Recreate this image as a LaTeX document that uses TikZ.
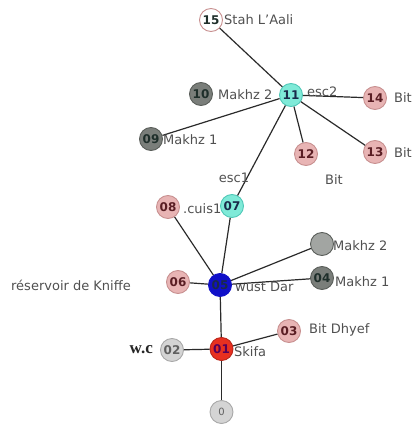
\documentclass[tikz,border=0pt]{standalone}
\usepackage{fontspec}
\setmainfont{DejaVu Sans}
\newfontfamily\wcfont{Liberation Serif}
\begin{document}
\begin{tikzpicture}[x=1pt,y=-1pt,
  nd/.style={circle,draw,line width=0.9pt,minimum size=23pt,inner sep=0pt,font=\fontsize{12}{12}\selectfont\bfseries},
  pinknd/.style={nd,fill=pinkf,draw=pinkd,text=brownt},
  cyannd/.style={nd,fill=cyanf,draw=cyand,text=navyt},
  dgreynd/.style={nd,fill=dgreyf,draw=dgreyd,text=dgreyt},
  lgreynd/.style={nd,fill=lgreyf,draw=lgreyd,text=lgreyt},
  lbl/.style={font=\fontsize{13}{13}\selectfont,text=labc,inner sep=0pt},
  edge/.style={line width=1.2pt,draw=edgec}]
\definecolor{pinkf}{HTML}{E8B4B4}
\definecolor{pinkd}{HTML}{C89090}
\definecolor{brownt}{HTML}{5A1E24}
\definecolor{cyanf}{HTML}{7FEAD8}
\definecolor{cyand}{HTML}{50C8B8}
\definecolor{navyt}{HTML}{1A2A4A}
\definecolor{dgreyf}{HTML}{7A7E7A}
\definecolor{dgreyd}{HTML}{5A5E5A}
\definecolor{dgreyt}{HTML}{1E2E2A}
\definecolor{lgreyf}{HTML}{D4D4D4}
\definecolor{lgreyd}{HTML}{A8A8A8}
\definecolor{lgreyt}{HTML}{606060}
\definecolor{labc}{HTML}{505050}
\definecolor{edgec}{HTML}{2A2A2A}
\definecolor{bluef}{HTML}{1010C8}
\definecolor{redf}{HTML}{E83020}
\useasboundingbox (0,0) rectangle (414,425);
% nodes
\node[nd,fill=white,draw=pinkd,text=dgreyt] (n15) at (211,20) {15};
\node[cyannd] (n11) at (291,95) {11};
\node[dgreynd] (n10) at (201,94) {10};
\node[dgreynd] (n09) at (151,139) {09};
\node[pinknd] (n14) at (375,98) {14};
\node[pinknd] (n13) at (375,152) {13};
\node[pinknd] (n12) at (306,154) {12};
\node[cyannd] (n07) at (232,206) {07};
\node[pinknd] (n08) at (168,207) {08};
\node[nd,fill=bluef,draw=bluef,text=navyt] (n05) at (220,285) {05};
\node[pinknd] (n06) at (178,282) {06};
\node[dgreynd,fill=dgreyf!70] (m2) at (322,244) {};
\node[dgreynd] (n04) at (322,278) {04};
\node[nd,fill=redf,draw=redf!80!black,text=violet!70!black] (n01) at (221.5,349) {01};
\node[lgreynd] (n02) at (172,350) {02};
\node[pinknd] (n03) at (289,331) {03};
\node[lgreynd,font=\fontsize{10}{10}\selectfont] (n0) at (221.5,412) {0};
% edges
\draw[edge] (n15) -- (n11);
\draw[edge] (n09) -- (n11);
\draw[edge] (n11) -- (n14);
\draw[edge] (n11) -- (n13);
\draw[edge] (n11) -- (n12);
\draw[edge] (n11) -- (n07);
\draw[edge] (n07) -- (n05);
\draw[edge] (n08) -- (n05);
\draw[edge] (n06) -- (n05);
\draw[edge] (n05) -- (m2);
\draw[edge] (n05) -- (n04);
\draw[edge] (n05) -- (n01);
\draw[edge] (n01) -- (n02);
\draw[edge] (n01) -- (n03);
\draw[edge] (n01) -- (n0);
% labels
\node[lbl,anchor=west] (l15) at (224,20) {Stah L'Aali};
\node[lbl,anchor=west] (l10) at (218,95) {Makhz 2};
\node[lbl,anchor=west] (l11) at (307,92) {esc2};
\node[lbl,anchor=west] (l14) at (394,98) {Bit};
\node[lbl,anchor=west] (l09) at (163,140) {Makhz 1};
\node[lbl,anchor=west] (l13) at (394,153) {Bit};
\node[lbl] (l12) at (334,180) {Bit};
\node[lbl] (l07) at (234,178) {esc1};
\node[lbl,anchor=west] (l08) at (183,209) {.cuis1};
\node[lbl,anchor=west] (lm2) at (333,246) {Makhz 2};
\node[lbl,anchor=west] (l04) at (335,282) {Makhz 1};
\node[lbl,anchor=east] (l06) at (131,285) {réservoir de Kniffe};
\node[lbl,anchor=west] (l05) at (235,287) {wust Dar};
\node[lbl,anchor=west] (l03) at (309,330) {Bit Dhyef};
\node[lbl,anchor=west] (l01) at (234,352) {Skifa};
\node[font=\wcfont\fontsize{17}{17}\selectfont\bfseries,text=black!85,anchor=east,inner sep=0pt] (l02) at (153,350) {w.c};
\end{tikzpicture}
\end{document}
